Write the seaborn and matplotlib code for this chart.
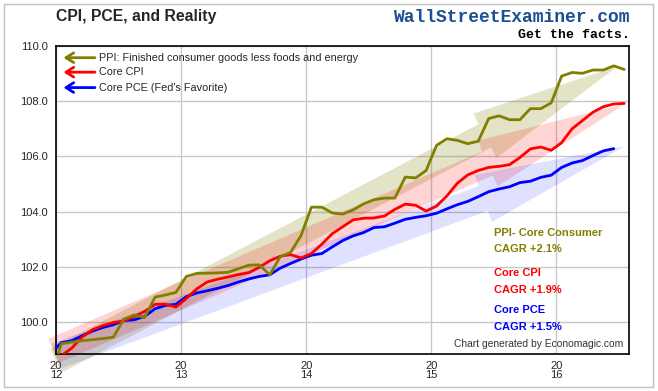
import numpy as np
import pandas as pd
import matplotlib
matplotlib.use('Agg')
import matplotlib.pyplot as plt
from matplotlib.patches import FancyArrowPatch, Rectangle
import seaborn as sns

# monthly readings, Dec 2011 .. Jul 2016 (PCE ends Jun 2016)
months = pd.date_range('2011-12-01', '2016-07-01', freq='MS')

ppi = [97.9, 99.21, 99.27, 99.32, 99.36, 99.40, 99.45, 100.10, 100.25, 100.16,
       100.90, 100.98, 101.07, 101.65, 101.76, 101.77, 101.78, 101.80, 101.93, 102.06,
       102.07, 101.71, 102.36, 102.52, 103.13, 104.16, 104.16, 103.95, 103.91, 104.06,
       104.28, 104.43, 104.49, 104.49, 105.25, 105.22, 105.49, 106.40, 106.64, 106.58,
       106.46, 106.55, 107.37, 107.47, 107.33, 107.33, 107.73, 107.73, 107.94, 108.91,
       109.04, 109.01, 109.13, 109.13, 109.28, 109.15]

core_cpi = [98.6, 98.78, 99.05, 99.45, 99.72, 99.87, 99.98, 100.04, 100.20, 100.38,
            100.64, 100.65, 100.54, 100.85, 101.20, 101.45, 101.55, 101.63, 101.72, 101.79,
            101.98, 102.22, 102.38, 102.44, 102.32, 102.48, 102.82, 103.20, 103.45, 103.70,
            103.76, 103.77, 103.84, 104.08, 104.27, 104.23, 104.02, 104.20, 104.57, 105.03,
            105.33, 105.49, 105.60, 105.64, 105.70, 105.96, 106.27, 106.34, 106.22, 106.50,
            107.00, 107.30, 107.60, 107.80, 107.90, 107.92]

core_pce = [98.85, 99.25, 99.32, 99.50, 99.67, 99.80, 99.90, 100.05, 100.08, 100.20,
            100.48, 100.60, 100.64, 100.92, 101.05, 101.13, 101.22, 101.32, 101.45, 101.56,
            101.65, 101.71, 101.95, 102.12, 102.28, 102.42, 102.48, 102.72, 102.95, 103.12,
            103.24, 103.42, 103.45, 103.58, 103.72, 103.79, 103.85, 103.94, 104.10, 104.25,
            104.37, 104.54, 104.72, 104.82, 104.90, 105.05, 105.10, 105.24, 105.32, 105.60,
            105.76, 105.85, 106.03, 106.20, 106.28]

names = ['PPI: Finished consumer goods less foods and energy', 'Core CPI', "Core PCE (Fed's Favorite)"]
colors = ['#808000', '#ff0000', '#0000ff']
cagr_titles = ['PPI- Core Consumer', 'Core CPI', 'Core PCE']
cagr_values = ['CAGR +2.1%', 'CAGR +1.9%', 'CAGR +1.5%']

# hand drawn trend arrows (start year, start value, tip year, tip value)
arrow_x0 = [2012.0, 2011.98, 2012.0]
arrow_y0 = [98.6, 98.95, 98.76]
arrow_x1 = [2016.49, 2016.55, 2016.54]
arrow_y1 = [109.27, 107.9, 106.36]
arrow_alpha = [0.22, 0.17, 0.12]

# decimal year at mid month
t = months.year + (months.month - 0.5) / 12
frames = []
for name, vals in zip(names, [ppi, core_cpi, core_pce]):
    frames.append(pd.DataFrame({'t': t[:len(vals)], 'value': vals, 'series': name}))
df = pd.concat(frames, ignore_index=True)

sns.set_style('white')
plt.rcParams['font.family'] = ['Liberation Sans', 'DejaVu Sans']

fig = plt.figure(figsize=(6.58, 3.91), dpi=100)
ax = fig.add_axes([56 / 658, 1 - 354 / 391, 573 / 658, 308 / 391])

for i in range(3):
    arr = FancyArrowPatch((arrow_x0[i], arrow_y0[i]), (arrow_x1[i], arrow_y1[i]),
                          arrowstyle='simple,head_length=108,head_width=36,tail_width=19',
                          mutation_scale=1, shrinkA=0, shrinkB=0,
                          facecolor=colors[i], edgecolor='none', alpha=arrow_alpha[i],
                          zorder=1, clip_on=False)
    ax.add_patch(arr)

sns.lineplot(data=df, x='t', y='value', hue='series', hue_order=names[::-1],
             palette=dict(zip(names, colors)), linewidth=2, legend=False,
             sort=False, ax=ax, zorder=3)

ax.set_xlim(2012, 2016.58)
ax.set_ylim(98.84, 110)
years = [2012, 2013, 2014, 2015, 2016]
ax.set_xticks(years)
ax.set_xticklabels([f'{str(y)[:2]}\n{str(y)[2:]}' for y in years], fontsize=8, linespacing=0.9)
yt = [100, 102, 104, 106, 108, 110]
ax.set_yticks(yt)
ax.set_yticklabels([f'{v:.1f}' for v in yt], fontsize=8)
ax.set_xlabel('')
ax.set_ylabel('')
ax.grid(True, color='#c8c8c8', linewidth=1)
ax.tick_params(axis='both', direction='out', length=4, width=1, color='black', pad=2)
ax.tick_params(axis='x', pad=1)
for s in ax.spines.values():
    s.set_color('black')
    s.set_linewidth(1.2)

# legend drawn as left pointing arrows
leg_y = [0.962, 0.915, 0.865]
for name, c, y in zip(names, colors, leg_y):
    ax.annotate('', xy=(0.013, y), xytext=(0.068, y), xycoords='axes fraction',
                arrowprops=dict(arrowstyle='->,head_length=0.55,head_width=0.35',
                                color=c, lw=2, shrinkA=0, shrinkB=0))
    ax.text(0.075, y, name, transform=ax.transAxes, fontsize=7.8, va='center', ha='left')

# CAGR notes
note_y = [(0.393, 0.341), (0.263, 0.208), (0.143, 0.088)]
for ttl, val, c, (y1, y2) in zip(cagr_titles, cagr_values, colors, note_y):
    ax.text(0.764, y1, ttl, transform=ax.transAxes, fontsize=8, fontweight='bold',
            color=c, va='center')
    ax.text(0.764, y2, val, transform=ax.transAxes, fontsize=8, fontweight='bold',
            color=c, va='center')
ax.text(0.99, 0.032, 'Chart generated by Economagic.com', transform=ax.transAxes,
        fontsize=7.4, color='#333333', ha='right', va='center')

fig.text(56 / 658, 1 - 16.5 / 391, 'CPI, PCE, and Reality', fontsize=11.3,
         fontweight='bold', va='center', ha='left')
fig.text(630 / 658, 1 - 17.5 / 391, 'WallStreetExaminer.com', fontsize=13, fontweight='bold',
         family=['Liberation Mono', 'DejaVu Sans Mono'], color='#1d4f91', ha='right', va='center')
fig.text(630 / 658, 1 - 35 / 391, 'Get the facts.', fontsize=9.5, fontweight='bold',
         family=['Liberation Mono', 'DejaVu Sans Mono'], color='black', ha='right', va='center')

fig.patches.append(Rectangle((4 / 658, 4 / 391), 649 / 658, 383 / 391, transform=fig.transFigure,
                             fill=False, edgecolor='#c0c0c0', linewidth=1))

fig.savefig('out.png', dpi=100)
